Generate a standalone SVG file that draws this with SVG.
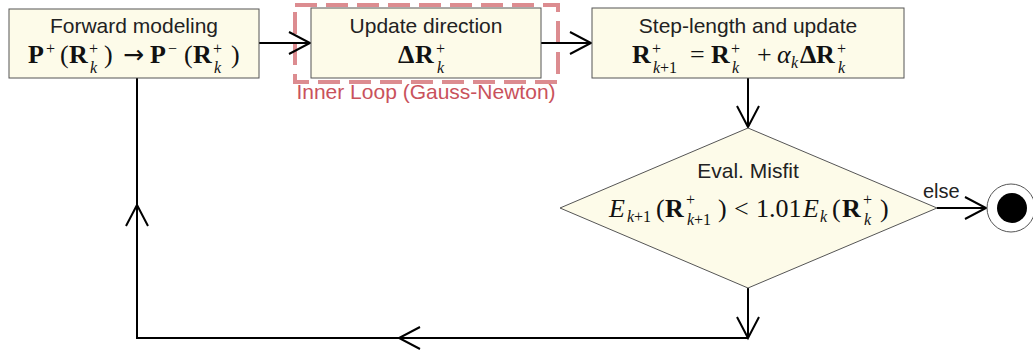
<svg xmlns="http://www.w3.org/2000/svg" width="1033" height="356" viewBox="0 0 1033 356">
<defs>
<style>
.box{fill:#fdfbe9;stroke:#555;stroke-width:1}
.lbl{font-family:"Liberation Sans",Arial,sans-serif;font-size:21px;fill:#222}
.m{font-family:"Liberation Serif","Times New Roman",serif;font-size:26px;fill:#111}
.b{font-weight:bold}
.i{font-style:italic}
.s{font-size:16px}
.arw{font-family:"DejaVu Sans",sans-serif;font-size:25px}
.conn{fill:none;stroke:#000;stroke-width:2}
</style>
<marker id="arr" markerUnits="userSpaceOnUse" markerWidth="30" markerHeight="30" viewBox="-25 -15 30 30" refX="0" refY="0" orient="auto" overflow="visible">
<path d="M-21,-11 L0,0 L-21,11" fill="none" stroke="#000" stroke-width="2"/>
</marker>
</defs>
<rect width="1033" height="356" fill="#fff"/>

<g id="inner-loop">
<rect x="295" y="5" width="263" height="77" fill="none" stroke="#dc8c90" stroke-width="4" stroke-dasharray="22 9"/>
<text x="426" y="99" text-anchor="middle" style="font-family:'Liberation Sans',Arial,sans-serif;font-size:21px;fill:#c9525c">Inner Loop (Gauss-Newton)</text>
</g>

<g id="connectors">
<path class="conn" d="M259,43 H310" marker-end="url(#arr)"/>
<path class="conn" d="M541,43 H591" marker-end="url(#arr)"/>
<path class="conn" d="M748,78 V127" marker-end="url(#arr)"/>
<path class="conn" d="M937,208 H986" marker-end="url(#arr)"/>
<path class="conn" d="M748,288 V338" marker-end="url(#arr)"/>
<path class="conn" d="M748,338 H399" marker-end="url(#arr)"/>
<path class="conn" d="M399,338 H137 V205" marker-end="url(#arr)"/>
<path class="conn" d="M137,205 V78"/>
</g>

<g id="forward">
<rect class="box" x="9" y="9" width="250" height="69"/>
<text class="lbl" x="134" y="33" text-anchor="middle">Forward modeling</text>
<text class="m"><tspan class="b" x="28" y="63">P</tspan><tspan class="s" x="46" y="54">+</tspan><tspan x="60" y="63">(</tspan><tspan class="b" x="69" y="63">R</tspan><tspan class="s" x="89" y="54">+</tspan><tspan class="s i" x="90" y="73">k</tspan><tspan x="104" y="63">)</tspan><tspan class="arw" x="123" y="63">→</tspan><tspan class="b" x="150" y="63">P</tspan><tspan class="s" x="168" y="54">−</tspan><tspan x="184" y="63">(</tspan><tspan class="b" x="193" y="63">R</tspan><tspan class="s" x="213" y="54">+</tspan><tspan class="s i" x="214" y="73">k</tspan><tspan x="231" y="63">)</tspan></text>
</g>

<g id="update-direction">
<rect class="box" x="311" y="8" width="230" height="70"/>
<text class="lbl" x="426" y="33" text-anchor="middle">Update direction</text>
<text class="m"><tspan class="b" x="398" y="63">Δ</tspan><tspan class="b" x="415" y="63">R</tspan><tspan class="s" x="436" y="54">+</tspan><tspan class="s i" x="437" y="73">k</tspan></text>
</g>

<g id="step-length">
<rect class="box" x="592" y="8" width="312" height="70"/>
<text class="lbl" x="748" y="33" text-anchor="middle">Step-length and update</text>
<text class="m"><tspan class="b" x="632" y="63">R</tspan><tspan class="s" x="652" y="54">+</tspan><tspan class="s i" x="653" y="73">k</tspan><tspan class="s" x="660" y="73">+1</tspan><tspan x="690" y="63">=</tspan><tspan class="b" x="711" y="63">R</tspan><tspan class="s" x="731" y="54">+</tspan><tspan class="s i" x="732" y="73">k</tspan><tspan x="757" y="63">+</tspan><tspan class="i" x="777" y="63">α</tspan><tspan class="s i" x="791" y="68">k</tspan><tspan class="b" x="800" y="63">Δ</tspan><tspan class="b" x="816" y="63">R</tspan><tspan class="s" x="837" y="54">+</tspan><tspan class="s i" x="838" y="73">k</tspan></text>
</g>

<g id="eval-misfit">
<polygon class="box" points="748,128 937,208 748,288 560,208"/>
<text class="lbl" x="748" y="178" text-anchor="middle">Eval. Misfit</text>
<text class="m"><tspan class="i" x="609" y="217">E</tspan><tspan class="s i" x="627" y="222">k</tspan><tspan class="s" x="634" y="222">+1</tspan><tspan x="656" y="217">(</tspan><tspan class="b" x="665" y="217">R</tspan><tspan class="s" x="686" y="205">+</tspan><tspan class="s i" x="687" y="225">k</tspan><tspan class="s" x="694" y="225">+1</tspan><tspan x="718" y="217">)</tspan><tspan x="734" y="217">&lt;</tspan><tspan x="756" y="217">1.01</tspan><tspan class="i" x="803" y="217">E</tspan><tspan class="s i" x="820" y="222">k</tspan><tspan x="832" y="217">(</tspan><tspan class="b" x="842" y="217">R</tspan><tspan class="s" x="863" y="205">+</tspan><tspan class="s i" x="864" y="225">k</tspan><tspan x="880" y="217">)</tspan></text>
</g>

<g id="else-label">
<text class="lbl" x="923" y="198" style="font-size:20px">else</text>
</g>

<g id="end">
<circle cx="1011" cy="208" r="24" fill="#fff" stroke="#555" stroke-width="1"/>
<circle cx="1012" cy="208" r="15" fill="#000"/>
</g>
</svg>
